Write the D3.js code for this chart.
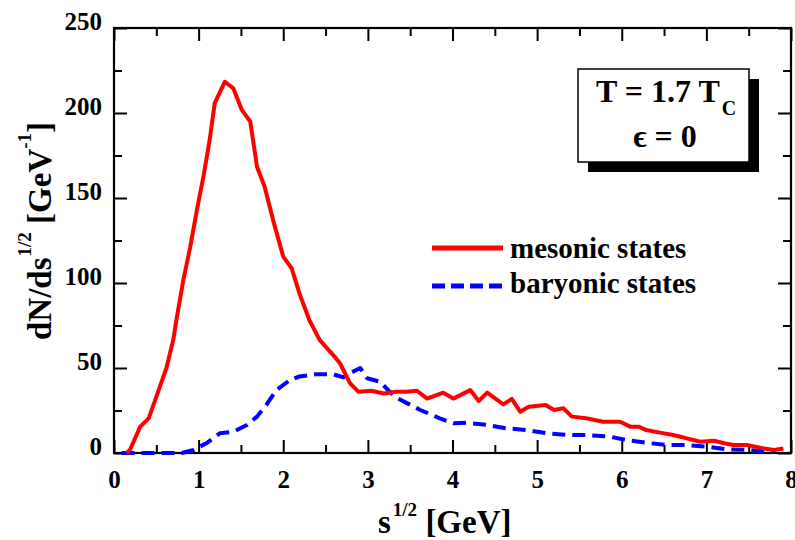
<!DOCTYPE html>
<html>
<head>
<meta charset="utf-8">
<script src="https://cdn.jsdelivr.net/npm/d3@7"></script>
<style>
  html, body { margin: 0; padding: 0; background: #fff; }
  svg { display: block; }
</style>
</head>
<body>
<svg id="chart" width="795" height="540" font-family="'Liberation Serif', Tinos, 'DejaVu Serif', serif" font-weight="bold"></svg>
<script>
// ---- data ----
const mesonX = [0.15,0.19,0.31,0.41,0.50,0.62,0.70,0.74,0.82,0.90,0.98,1.06,1.13,1.19,1.31,1.41,1.51,1.61,1.69,1.78,1.88,2.00,2.10,2.19,2.31,2.43,2.59,2.67,2.79,2.89,3.04,3.19,3.33,3.45,3.58,3.70,3.89,4.01,4.21,4.31,4.41,4.60,4.70,4.80,4.90,5.10,5.20,5.31,5.41,5.58,5.78,5.98,6.10,6.20,6.29,6.45,6.61,6.77,6.93,7.09,7.21,7.32,7.48,7.68,7.80,7.91];
const mesonY = [0,2,15.5,20.4,33,50,66.5,79,101.8,121,143,163.5,184,205.7,218.4,214.5,201.8,195,168.4,156.6,137,115.5,108.6,94,78,66.5,57.6,52.8,41,36,36.6,35,36,36,36.6,32,35.5,32,37,30.6,35.5,28.6,31.8,24.3,27.2,28.2,25.3,26.3,21.4,20.4,18.4,18.4,15.5,15.5,13.5,12,10.6,8.6,6.6,7.2,5.7,4.7,4.7,2.7,1.8,2.7];
const baryonX = [0.09,0.30,0.50,0.80,0.94,1.09,1.25,1.41,1.57,1.69,1.81,1.92,2.08,2.19,2.39,2.59,2.71,2.79,2.91,2.99,3.14,3.32,3.62,3.85,4.01,4.17,4.41,4.64,4.88,5.12,5.35,5.58,5.86,6.06,6.29,6.53,6.77,7.00,7.24,7.48,7.73,7.80];
const baryonY = [0,0,0,0,1.8,5.7,11.6,12.5,16.5,21.4,29,37,43,45,46.3,46.3,44.5,47,50,44,42,33,25.3,20.4,17.5,17.8,16.5,14.5,13.5,11.6,10.6,10.6,9.6,7.6,6,4.7,4.7,3.7,2.2,1.8,0.8,0.8];
const xTicks = [0,1,2,3,4,5,6,7,8];
const xMinor = [0.5,1.5,2.5,3.5,4.5,5.5,6.5,7.5];
const yTicks = [0,50,100,150,200,250];
const yMinor = [25,75,125,175,225];
const seriesNames = ["mesonic states", "baryonic states"];
const seriesColors = ["#ff0000", "#0000ff"];

// ---- layout ----
const svg = d3.select("#chart");
const L = 114, R = 791, T = 28, B = 453;
const x = d3.scaleLinear().domain([0, 8]).range([L, R]);
const y = d3.scaleLinear().domain([0, 250]).range([B, T]);

svg.append("rect").attr("width", 795).attr("height", 540).attr("fill", "#fff");

const MAJ = 13, MIN = 8;
function styleAxis(g) {
  g.attr("font-family", null).attr("font-size", null);
  g.select(".domain").remove();
  g.selectAll(".tick line").attr("stroke", "#000").attr("stroke-width", 2);
}

// bottom
svg.append("g").attr("transform", `translate(0,${B})`)
  .call(d3.axisBottom(x).tickValues(xTicks).tickSize(-MAJ).tickPadding(17).tickFormat(d3.format("d")))
  .call(styleAxis)
  .call(g => g.selectAll("text").attr("font-size", 25));
svg.append("g").attr("transform", `translate(0,${B})`)
  .call(d3.axisBottom(x).tickValues(xMinor).tickSize(-MIN).tickFormat(""))
  .call(styleAxis);
// top
svg.append("g").attr("transform", `translate(0,${T})`)
  .call(d3.axisTop(x).tickValues(xTicks).tickSize(-MAJ).tickFormat(""))
  .call(styleAxis);
svg.append("g").attr("transform", `translate(0,${T})`)
  .call(d3.axisTop(x).tickValues(xMinor).tickSize(-MIN).tickFormat(""))
  .call(styleAxis);
// left
svg.append("g").attr("transform", `translate(${L},0)`)
  .call(d3.axisLeft(y).tickValues(yTicks).tickSize(-MAJ).tickPadding(12).tickFormat(d3.format("d")))
  .call(styleAxis)
  .call(g => g.selectAll("text").attr("font-size", 25).attr("dy", "0.06em"));
svg.append("g").attr("transform", `translate(${L},0)`)
  .call(d3.axisLeft(y).tickValues(yMinor).tickSize(-MIN).tickFormat(""))
  .call(styleAxis);
// right
svg.append("g").attr("transform", `translate(${R},0)`)
  .call(d3.axisRight(y).tickValues(yTicks).tickSize(-MAJ).tickFormat(""))
  .call(styleAxis);
svg.append("g").attr("transform", `translate(${R},0)`)
  .call(d3.axisRight(y).tickValues(yMinor).tickSize(-MIN).tickFormat(""))
  .call(styleAxis);

// frame
svg.append("rect").attr("x", L).attr("y", T).attr("width", R - L).attr("height", B - T)
  .attr("fill", "none").attr("stroke", "#000").attr("stroke-width", 2.2);

// ---- curves ----
const line = d3.line().x(d => x(d[0])).y(d => y(d[1]));
const meson = mesonX.map((v, i) => [v, mesonY[i]]);
const baryon = baryonX.map((v, i) => [v, baryonY[i]]);

svg.append("path").datum(baryon).attr("d", line)
  .attr("fill", "none").attr("stroke", seriesColors[1]).attr("stroke-width", 4)
  .attr("stroke-dasharray", "13,7").attr("stroke-linejoin", "round");
svg.append("path").datum(meson).attr("d", line)
  .attr("fill", "none").attr("stroke", seriesColors[0]).attr("stroke-width", 4)
  .attr("stroke-linejoin", "round");

// ---- legend ----
const leg = [{y: 248, ty: 258, dash: null}, {y: 286, ty: 293, dash: "13,6"}];
leg.forEach((l, i) => {
  svg.append("line").attr("x1", 432).attr("x2", 503).attr("y1", l.y).attr("y2", l.y)
    .attr("stroke", seriesColors[i]).attr("stroke-width", 5)
    .attr("stroke-dasharray", l.dash);
  svg.append("text").attr("x", 510).attr("y", l.ty).attr("font-size", 29).text(seriesNames[i]);
});

// ---- annotation box ----
svg.append("rect").attr("x", 588).attr("y", 79).attr("width", 171).attr("height", 93).attr("fill", "#000");
svg.append("rect").attr("x", 578).attr("y", 69).attr("width", 171).attr("height", 93)
  .attr("fill", "#fff").attr("stroke", "#000").attr("stroke-width", 1.5);
const t1 = svg.append("text").attr("x", 596).attr("y", 102).attr("font-size", 32);
t1.append("tspan").text("T = 1.7 T");
t1.append("tspan").attr("font-size", 20).attr("dy", 13).attr("dx", 2).text("C");
svg.append("text").attr("x", 665).attr("y", 147).attr("font-size", 32).attr("text-anchor", "middle")
  .text("\u03F5 = 0");

// ---- axis titles ----
const xl = svg.append("text").attr("x", 378).attr("y", 533).attr("font-size", 33);
xl.append("tspan").text("s");
xl.append("tspan").attr("font-size", 19).attr("dy", -17).attr("dx", 2).text("1/2");
xl.append("tspan").attr("dy", 17).text(" [GeV]");

const yl = svg.append("text").attr("transform", "translate(51,340) rotate(-90)").attr("font-size", 33);
yl.append("tspan").text("dN/ds");
yl.append("tspan").attr("font-size", 19).attr("dy", -20).attr("dx", 1).text("1/2");
yl.append("tspan").attr("dy", 20).text(" [GeV");
yl.append("tspan").attr("font-size", 19).attr("dy", -20).text("-1");
yl.append("tspan").attr("dy", 20).text("]");
</script>
</body>
</html>
